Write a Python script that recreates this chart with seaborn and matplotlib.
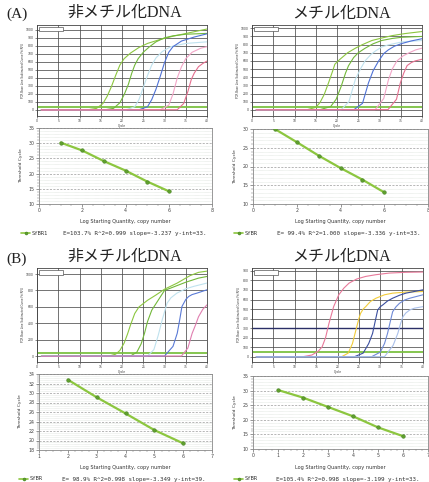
import matplotlib
matplotlib.use("Agg")
import numpy as np
import pandas as pd
import seaborn as sns
import matplotlib.pyplot as plt
from matplotlib.lines import Line2D
from matplotlib.patches import Rectangle
from matplotlib.ticker import MultipleLocator

sns.set_theme(style="white")
plt.rcParams["font.family"] = ["DejaVu Sans"]

# ---------------- amplification curves: (cycle, RFU) ----------------
# (A) unmethylated
AU_G1 = ([1, 12, 14, 15.5, 16.5, 17.5, 18.5, 19.5, 20.5, 22, 24, 26, 29, 32, 36, 40],
         [0, 3, 20, 80, 170, 290, 430, 560, 640, 710, 780, 830, 880, 920, 965, 1010])
AU_G2 = ([1, 16, 18, 19.5, 20.5, 21.5, 22.3, 23, 23.8, 25, 26.5, 28, 30, 32, 35, 40],
         [0, 3, 20, 90, 190, 320, 460, 560, 640, 720, 790, 850, 900, 925, 945, 955])
AU_CY = ([1, 21, 23, 24, 25, 26, 27, 28, 29.5, 31.5, 35, 40],
         [0, 3, 40, 130, 280, 430, 560, 650, 730, 790, 830, 850])
AU_BL = ([1, 24, 26, 27, 28, 29, 30, 31, 32, 34, 37, 40],
         [0, 3, 40, 130, 260, 420, 590, 720, 790, 860, 910, 950])
AU_PK = ([1, 29, 31, 32, 33, 34, 35, 36.5, 38.5, 40],
         [0, 3, 60, 200, 400, 540, 640, 720, 770, 790])
AU_RD = ([1, 33, 34.5, 35.5, 36.3, 37, 38, 39, 40],
         [0, 3, 80, 230, 380, 460, 540, 580, 610])

# (A) methylated
AM_G1 = ([1, 13, 15, 16, 17, 18, 19, 19.5, 20.7, 22.5, 24.3, 26, 28.2, 30.5, 33, 36, 40],
         [0, 3, 30, 90, 190, 330, 480, 560, 620, 700, 755, 800, 850, 880, 910, 935, 960])
AM_G2 = ([1, 16, 18.5, 19.8, 21, 22, 22.7, 23.9, 25, 26.6, 28.5, 30.5, 33, 35.3, 40],
         [0, 3, 40, 130, 290, 450, 540, 640, 700, 755, 810, 850, 875, 890, 900])
AM_CY = ([1, 21, 22.8, 24.3, 25.5, 26.6, 28, 29, 30.5, 32, 35.3, 40],
         [0, 3, 100, 370, 500, 600, 680, 720, 770, 795, 833, 850])
AM_BL = ([1, 24, 26, 27.4, 28.5, 29.8, 31, 32.1, 33.5, 35.3, 37.5, 40],
         [0, 3, 80, 330, 480, 600, 690, 736, 780, 814, 845, 872])
AM_PK = ([1, 29, 31, 32.1, 33, 34.1, 35.5, 36.9, 38.5, 40],
         [0, 3, 140, 368, 500, 600, 660, 698, 735, 756])
AM_RD = ([1, 32, 34, 34.9, 35.7, 36.5, 37.5, 38.4, 40],
         [0, 3, 130, 330, 450, 543, 580, 600, 620])

# (B) unmethylated
BU_G1 = ([1, 17, 18.5, 19.5, 20.5, 21.3, 22, 23, 24, 26, 28, 30, 33, 36, 38, 40],
         [0, 3, 25, 70, 160, 270, 380, 520, 600, 680, 745, 815, 890, 980, 1020, 1035])
BU_G2 = ([1, 22, 23.5, 24.5, 25.3, 26, 27, 28, 30, 32, 35, 38, 40],
         [0, 3, 50, 150, 280, 420, 560, 640, 800, 840, 900, 950, 970])
BU_CY = ([1, 26, 27.5, 28.5, 29.5, 30.6, 31.5, 32.9, 35, 36.9, 40],
         [0, 3, 80, 250, 450, 645, 710, 767, 820, 850, 890])
BU_BL = ([1, 30, 32, 33, 33.6, 34.1, 35, 35.7, 36.5, 37.6, 40],
         [0, 3, 120, 280, 450, 604, 690, 727, 750, 767, 808])
BU_PK = ([1, 34, 35.5, 36.5, 37.3, 38, 39, 40],
         [0, 3, 100, 278, 380, 480, 570, 625])

# (B) methylated
BM_PK = ([1, 12, 14, 15.5, 16.4, 17.2, 18, 19.1, 20.3, 21.5, 22.7, 24.5, 26.6, 29, 32.1, 36, 40],
         [0, 3, 20, 60, 105, 200, 350, 526, 650, 720, 772, 815, 842, 860, 877, 885, 888])
BM_YE = ([1, 21, 22.5, 23.5, 24.3, 25, 25.4, 26, 26.6, 27.7, 29, 31, 32.9, 36, 40],
         [0, 3, 40, 140, 280, 400, 456, 500, 526, 580, 614, 650, 667, 678, 684])
BM_DB = ([1, 24, 26, 27.3, 28.2, 29, 29.4, 30, 30.6, 31.7, 32.9, 34.5, 36, 40],
         [0, 3, 40, 140, 245, 410, 491, 525, 544, 585, 614, 645, 667, 702])
BM_MB = ([1, 28, 30, 31, 31.7, 32.4, 32.9, 33.7, 34.5, 35.7, 36.9, 40],
         [0, 3, 50, 140, 245, 380, 473, 525, 561, 595, 614, 650])
BM_LB = ([1, 31, 33, 34.1, 34.7, 35.3, 36, 36.9, 38, 40],
         [0, 3, 120, 245, 340, 420, 460, 491, 510, 526])

# ---------------- standard curves ----------------
AU_LOGQ = [1, 2, 3, 4, 5, 6]
AU_CT = [30.2, 27.6, 24.1, 21.0, 17.4, 14.2]
AM_LOGQ = [1, 2, 3, 4, 5, 6]
AM_CT = [30.0, 26.5, 22.9, 19.6, 16.5, 13.1]
BU_LOGQ = [2, 3, 4, 5, 6]
BU_CT = [32.8, 29.1, 25.7, 22.2, 19.4]
BM_LOGQ = [1, 2, 3, 4, 5, 6]
BM_CT = [30.2, 27.6, 24.4, 21.2, 17.4, 14.4]

AU_STATS = "E=103.7% R^2=0.999 slope=-3.237 y-int=33."
AM_STATS = "E= 99.4% R^2=1.000 slope=-3.336 y-int=33."
BU_STATS = "E= 98.9% R^2=0.998 slope=-3.349 y-int=39."
BM_STATS = "E=105.4% R^2=0.998 slope=-3.199 y-int=33."

PANEL_TITLES = ["非メチル化DNA", "メチル化DNA"]
SECTION_LABELS = ["(A)", "(B)"]

W, H = 429, 482
fig = plt.figure(figsize=(W / 100, H / 100), dpi=100)
fig.patch.set_facecolor("white")

GRID = "#4d4d4d"
LINE_GREEN = "#8cc63f"
TEXT = "#333333"


def place(l, t, r, b):
    return fig.add_axes([l / W, 1 - b / H, (r - l) / W, (b - t) / H])


def amp_panel(rect, curves, colors, ylim, yticks, thr, extra=None):
    ax = place(*rect)
    rows = []
    for name, (cyc, rfu) in curves.items():
        for c, r in zip(cyc, rfu):
            rows.append({"well": name, "cycle": c, "rfu": r})
    df = pd.DataFrame(rows)
    ax.set_xlim(0, 40)
    ax.set_ylim(*ylim)
    ax.set_xticks(range(0, 41, 5))
    ax.set_yticks(yticks)
    ax.grid(True, color=GRID, lw=0.55)
    ax.set_axisbelow(True)
    ax.axhline(thr, color="#7cc142", lw=1.3, zorder=2)
    if extra is not None:
        ax.axhline(extra, color="#2a2f66", lw=1.0, zorder=2)
    sns.lineplot(data=df, x="cycle", y="rfu", hue="well", palette=colors,
                 estimator=None, sort=False, legend=False, lw=0.8, ax=ax,
                 zorder=3)
    ax.tick_params(axis="both", labelsize=2.2, length=1.5, width=0.4,
                   pad=0.8, colors="#333333", bottom=True, left=True)
    ax.set_xlabel("Cycle", fontsize=2.2, labelpad=0.3, color=TEXT)
    ax.set_ylabel("PCR Base Line Subtracted Curve Fit RFU", fontsize=2.0,
                  labelpad=1.0, color=TEXT)
    for s in ax.spines.values():
        s.set_color("#444444")
        s.set_linewidth(0.6)
    ax.add_patch(Rectangle((0.012, 0.93), 0.14, 0.045, transform=ax.transAxes,
                           facecolor="white", edgecolor="#555555", lw=0.5,
                           zorder=5))
    return ax


def std_panel(rect, logq, ct, xlim, ylim, xmajor, ymajor, ylab_x, xlab_y,
              leg_x, leg_y, series, stats, stats_x):
    ax = place(*rect)
    ax.set_xlim(*xlim)
    ax.set_ylim(*ylim)
    ax.xaxis.set_major_locator(MultipleLocator(xmajor))
    ax.xaxis.set_minor_locator(MultipleLocator(xmajor / 4))
    ax.yaxis.set_major_locator(MultipleLocator(ymajor))
    ax.yaxis.set_minor_locator(MultipleLocator(ymajor / 5))
    ax.grid(True, which="major", axis="y", color="#9a9a9a", lw=0.5,
            ls=(0, (3, 2)))
    ax.grid(True, which="minor", axis="y", color="#cfd8cf", lw=0.4,
            ls=(0, (1, 1)))
    ax.set_axisbelow(True)
    sns.lineplot(x=logq, y=ct, color=LINE_GREEN, lw=1.6, ax=ax, zorder=3)
    sns.scatterplot(x=logq, y=ct, color="#5f9e2e", edgecolor="#3b7a1a",
                    linewidth=0.3, s=7, ax=ax, zorder=4)
    ax.tick_params(axis="both", which="major", labelsize=3.4, length=2,
                   width=0.4, pad=1, colors="#444444", bottom=True, left=True)
    ax.tick_params(axis="both", which="minor", length=1.2, width=0.3,
                   colors="#666666", bottom=True, left=True)
    ax.set_xlabel("")
    ax.set_ylabel("")
    for s in ax.spines.values():
        s.set_color("#888888")
        s.set_linewidth(0.6)
    l, t, r, b = rect
    fig.text(ylab_x / W, 1 - ((t + b) / 2) / H, "Threshold Cycle",
             rotation=90, ha="center", va="center", fontsize=3.2, color=TEXT)
    fig.text(((l + r) / 2) / W, 1 - xlab_y / H,
             "Log Starting Quantity, copy number", ha="center", va="center",
             fontsize=3.6, color=TEXT)
    yy = 1 - leg_y / H
    fig.add_artist(Line2D([leg_x / W, (leg_x + 4.5) / W, (leg_x + 9) / W],
                          [yy, yy, yy], transform=fig.transFigure,
                          color=LINE_GREEN, lw=1.2, marker="o",
                          markersize=2.2, markevery=[1],
                          markerfacecolor="#5f9e2e",
                          markeredgecolor="#3b7a1a", markeredgewidth=0.3))
    fig.text((leg_x + 11) / W, yy, series, ha="left", va="center",
             fontsize=4.0, family="DejaVu Sans Mono", color=TEXT)
    fig.text(stats_x / W, yy, stats, ha="left", va="center",
             fontsize=4.2, family="DejaVu Sans Mono", color=TEXT)
    return ax


PAL_A = ["#8cc63f", "#72b83a", "#bfe2ee", "#4f72d6", "#f2a5c7", "#e56f8f"]
PAL_BU = ["#8cc63f", "#72b83a", "#bfe2ee", "#5a7ad6", "#e07fb0"]
PAL_BM = ["#e8799a", "#f2cc3a", "#3a4e9e", "#6f8ad6", "#aac0ea"]

amp_panel((37, 25, 207, 116),
          {"g1": AU_G1, "g2": AU_G2, "cy": AU_CY, "bl": AU_BL, "pk": AU_PK, "rd": AU_RD},
          PAL_A, (-75, 1060), range(0, 1001, 100), 40)
amp_panel((252, 25, 422, 116),
          {"g1": AM_G1, "g2": AM_G2, "cy": AM_CY, "bl": AM_BL, "pk": AM_PK, "rd": AM_RD},
          PAL_A, (-75, 1040), range(0, 1001, 100), 40)
amp_panel((37, 268, 207, 362),
          {"g1": BU_G1, "g2": BU_G2, "cy": BU_CY, "bl": BU_BL, "pk": BU_PK},
          PAL_BU, (-70, 1073), range(0, 1001, 200), 40)
amp_panel((252, 268, 423, 362),
          {"pk": BM_PK, "ye": BM_YE, "db": BM_DB, "mb": BM_MB, "lb": BM_LB},
          PAL_BM, (-53, 930), range(0, 901, 100), 50, extra=300)

std_panel((39, 128, 212, 204), AU_LOGQ, AU_CT, (0, 8), (10, 35), 2, 5,
          21, 222, 21, 233, "SYBR1", AU_STATS, 63)
std_panel((253, 129, 428, 204), AM_LOGQ, AM_CT, (0, 8), (10, 30), 2, 5,
          235, 222, 234, 233, "SYBR", AM_STATS, 277)
std_panel((39, 374, 212, 450), BU_LOGQ, BU_CT, (1, 7), (18, 34), 1, 2,
          20, 467, 19, 479, "SYBR", BU_STATS, 62)
std_panel((253, 376, 428, 449), BM_LOGQ, BM_CT, (0, 7), (10, 35), 1, 5,
          235, 467, 234, 479, "SYBR", BM_STATS, 276)

# section labels and panel titles
TITLE_FONT = ["Liberation Serif", "Noto Sans CJK JP"]
fig.text(17 / W, 1 - 14 / H, SECTION_LABELS[0], ha="center", va="center",
         fontsize=11, family=TITLE_FONT, color="#222222")
fig.text(17 / W, 1 - 259 / H, SECTION_LABELS[1], ha="center", va="center",
         fontsize=11, family=TITLE_FONT, color="#222222")
for (cx, cy), title in zip([(125, 13), (341, 14)], PANEL_TITLES):
    fig.text(cx / W, 1 - cy / H, title, ha="center", va="center",
             fontsize=11.5, family=TITLE_FONT, color="#222222")
for (cx, cy), title in zip([(125, 257), (341, 257)], PANEL_TITLES):
    fig.text(cx / W, 1 - cy / H, title, ha="center", va="center",
             fontsize=11.5, family=TITLE_FONT, color="#222222")

fig.savefig("out.png", dpi=100, facecolor="white")
